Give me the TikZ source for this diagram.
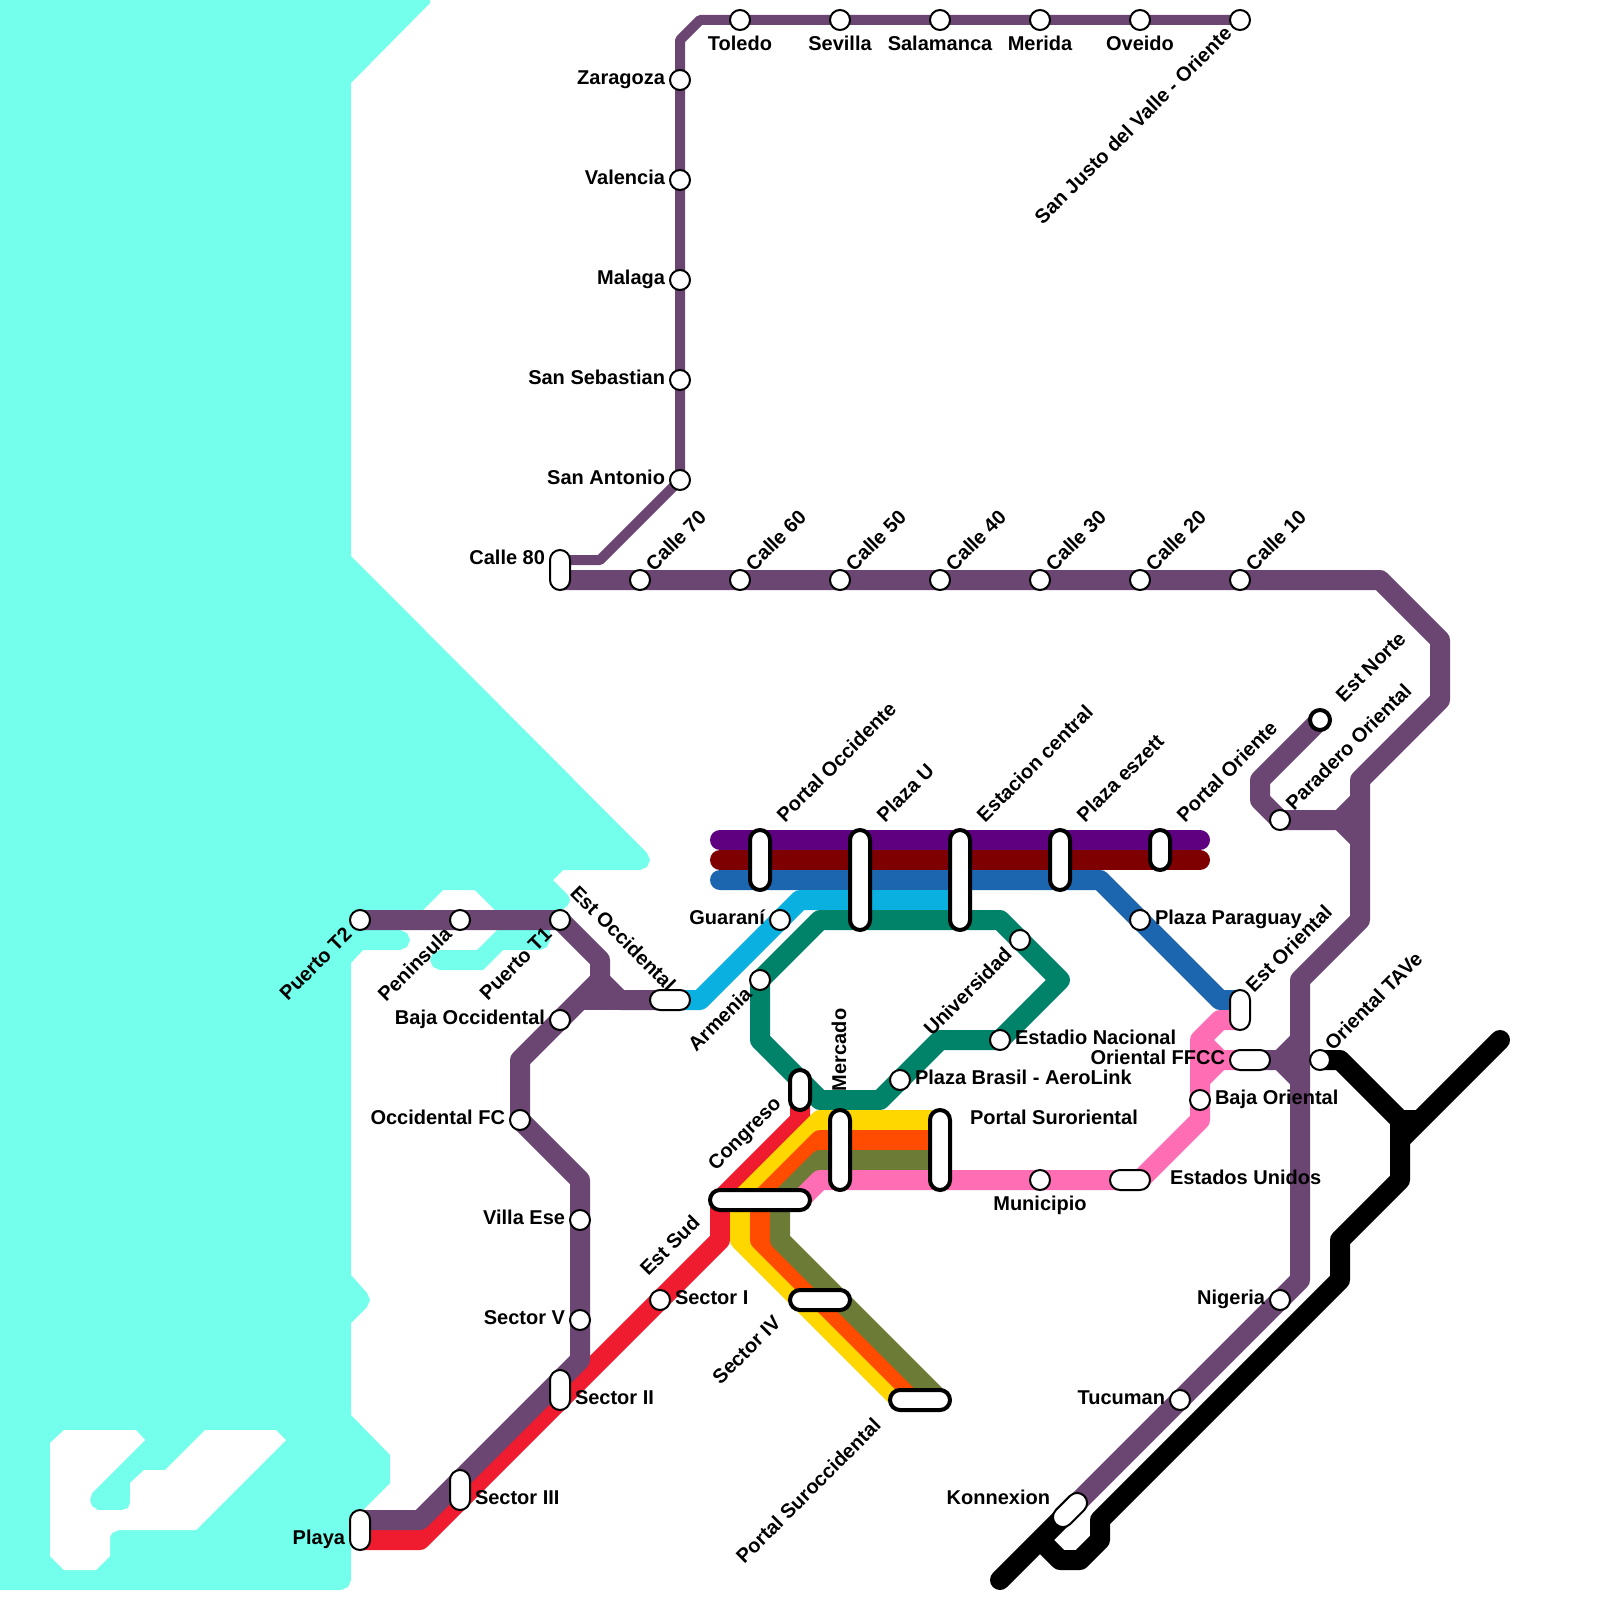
\documentclass[tikz,border=0pt]{standalone}
\usepackage{fontspec}
\setmainfont{Liberation Sans}
\pgfdeclarelayer{sea}
\pgfdeclarelayer{lines}
\pgfsetlayers{sea,lines,main}
\definecolor{seac}{HTML}{74FFEC}
\definecolor{plum}{HTML}{6C4672}
\definecolor{viol}{HTML}{5E0080}
\definecolor{maro}{HTML}{7F0000}
\definecolor{blu}{HTML}{1C66B0}
\definecolor{cya}{HTML}{0AB0E0}
\definecolor{tea}{HTML}{008368}
\definecolor{yel}{HTML}{FFD700}
\definecolor{ora}{HTML}{FF4C00}
\definecolor{oli}{HTML}{6C7B35}
\definecolor{hotp}{HTML}{FF6EB4}
\definecolor{redl}{HTML}{EE1C2E}
\tikzset{
  stn/.style={circle,draw=black,fill=white,line width=2pt,minimum size=20pt,inner sep=0pt},
  stnk/.style={circle,draw=black,fill=white,line width=4pt,minimum size=20pt,inner sep=0pt},
  pill/.style={rectangle,rounded corners=10pt,draw=black,fill=white,line width=2pt,inner sep=0pt},
  pillk/.style={pill,line width=4pt},
  lab/.style={font=\fontsize{20}{24}\selectfont\bfseries,inner sep=0pt,outer sep=0pt,text=black},
  ln/.style={line width=20pt,line join=round},
  thin ln/.style={line width=10pt,line join=round},
}
\newcommand{\st}[2]{\node[stn] (#1) at (#2) {};}
\newcommand{\pl}[5]{\node[#1,minimum width=#4pt,minimum height=#5pt] (#2) at (#3) {};}
\newcommand{\lb}[5]{\node[lab,anchor=#2,rotate=#3] (l#1) at (#4) {#5};}
\begin{document}
\begin{tikzpicture}[x=1pt,y=-1pt]
\useasboundingbox (0,0) rectangle (1600,1600);
% stations
\st{toledo}{740,20}\st{sevilla}{840,20}\st{salam}{940,20}\st{merida}{1040,20}\st{oveido}{1140,20}\st{justo}{1240,20}
\st{zara}{680,80}\st{valen}{680,180}\st{malaga}{680,280}\st{sanseb}{680,380}\st{sanant}{680,480}
\st{c70}{640,580}\st{c60}{740,580}\st{c50}{840,580}\st{c40}{940,580}\st{c30}{1040,580}\st{c20}{1140,580}\st{c10}{1240,580}
\node[stnk] (norte) at (1320,720) {};
\st{parad}{1280,820}\st{guarani}{780,920}\st{armenia}{760,980}\st{univ}{1020,940}\st{estadio}{1000,1040}\st{brasil}{900,1080}
\st{paraguay}{1140,920}\st{tave}{1320,1060}\st{bajaor}{1200,1100}\st{munic}{1040,1180}
\st{pt2}{360,920}\st{penin}{460,920}\st{pt1}{560,920}\st{bajaoc}{560,1020}\st{occfc}{520,1120}\st{villa}{580,1220}\st{secv}{580,1320}
\st{seci}{660,1300}\st{nigeria}{1280,1300}\st{tucuman}{1180,1400}
\pl{pill}{c80}{560,570}{20}{40}
\pl{pill}{estocc}{670,1000}{40}{20}
\pl{pillk}{portocc}{760,860}{20}{60}
\pl{pillk}{plazau}{860,880}{20}{100}
\pl{pillk}{estac}{960,880}{20}{100}
\pl{pillk}{eszett}{1060,860}{20}{60}
\pl{pillk}{portor}{1160,850}{20}{40}
\pl{pill}{estor}{1240,1010}{20}{40}
\pl{pill}{ffcc}{1250,1060}{40}{20}
\pl{pillk}{congreso}{800,1090}{20}{40}
\pl{pillk}{mercado}{840,1150}{20}{80}
\pl{pillk}{suror}{940,1150}{20}{80}
\pl{pill}{eeuu}{1130,1180}{40}{20}
\pl{pillk}{estsud}{760,1200}{100}{20}
\pl{pillk}{seciv}{820,1300}{60}{20}
\pl{pillk}{suroc}{920,1400}{60}{20}
\pl{pill}{secii}{560,1390}{20}{40}
\pl{pill}{seciii}{460,1490}{20}{40}
\pl{pill}{playa}{360,1530}{20}{40}
\node[pill,minimum width=40pt,minimum height=20pt,rotate=45] (konn) at (1070,1510) {};
\coordinate (estorA) at (1240,1000);
\coordinate (estorB) at (1240,1020);
% labels
\lb{toledo}{base}{0}{740,51}{Toledo}\lb{sevilla}{base}{0}{840,51}{Sevilla}\lb{salam}{base}{0}{940,51}{Salamanca}\lb{merida}{base}{0}{1040,51}{Merida}\lb{oveido}{base}{0}{1140,51}{Oveido}
\lb{justo}{base east}{45}{1233,35}{San Justo del Valle - Oriente}
\lb{zara}{base east}{0}{665,84.5}{Zaragoza}\lb{valen}{base east}{0}{665,184.5}{Valencia}\lb{malaga}{base east}{0}{665,284.5}{Malaga}\lb{sanseb}{base east}{0}{665,384.5}{San Sebastian}\lb{sanant}{base east}{0}{665,484.5}{San Antonio}
\lb{c80}{base east}{0}{545,564.5}{Calle 80}
\lb{c70}{base west}{45}{654,572}{Calle 70}\lb{c60}{base west}{45}{754,572}{Calle 60}\lb{c50}{base west}{45}{854,572}{Calle 50}\lb{c40}{base west}{45}{954,572}{Calle 40}\lb{c30}{base west}{45}{1054,572}{Calle 30}\lb{c20}{base west}{45}{1154,572}{Calle 20}\lb{c10}{base west}{45}{1254,572}{Calle 10}
\lb{norte}{base west}{45}{1344,703}{Est Norte}
\lb{parad}{base west}{45}{1294,811}{Paradero Oriental}
\lb{portocc}{base west}{45}{785,823}{Portal Occidente}\lb{plazau}{base west}{45}{885,823}{Plaza U}\lb{estac}{base west}{45}{985,823}{Estacion central}\lb{eszett}{base west}{45}{1085,823}{Plaza eszett}\lb{portor}{base west}{45}{1185,823}{Portal Oriente}
\lb{guarani}{base east}{0}{765,924.5}{Guaraní}
\lb{paraguay}{base west}{0}{1155,924.5}{Plaza Paraguay}
\lb{estor}{base west}{45}{1254,993}{Est Oriental}
\lb{tave}{base west}{45}{1333,1051}{Oriental TAVe}
\lb{estadio}{base west}{0}{1015,1044.5}{Estadio Nacional}
\lb{ffcc}{base east}{0}{1225,1064.5}{Oriental FFCC}
\lb{brasil}{base west}{0}{915,1084.5}{Plaza Brasil - AeroLink}
\lb{bajaor}{base west}{0}{1215,1104.5}{Baja Oriental}
\lb{suror}{base west}{0}{970,1124.5}{Portal Suroriental}
\lb{eeuu}{base west}{0}{1170,1184.5}{Estados Unidos}
\lb{munic}{base}{0}{1040,1210}{Municipio}
\lb{univ}{base east}{45}{1013,956}{Universidad}
\lb{armenia}{base east}{45}{753,996}{Armenia}
\lb{mercado}{base west}{90}{846,1091}{Mercado}
\lb{congreso}{base east}{45}{782,1105}{Congreso}
\lb{estsud}{base east}{45}{701,1224}{Est Sud}
\lb{seci}{base west}{0}{675,1304.5}{Sector I}
\lb{seciv}{base east}{45}{782,1324}{Sector IV}
\lb{suroc}{base east}{45}{882,1427}{Portal Suroccidental}
\lb{pt2}{base east}{45}{353,936}{Puerto T2}\lb{penin}{base east}{45}{453,936}{Peninsula}\lb{pt1}{base east}{45}{553,936}{Puerto T1}
\lb{estocc}{base west}{-45}{569,894}{Est Occidental}
\lb{bajaoc}{base east}{0}{545,1024.5}{Baja Occidental}
\lb{occfc}{base east}{0}{505,1124.5}{Occidental FC}
\lb{villa}{base east}{0}{565,1224.5}{Villa Ese}
\lb{secv}{base east}{0}{565,1324.5}{Sector V}
\lb{secii}{base west}{0}{575,1404.5}{Sector II}
\lb{seciii}{base west}{0}{475,1504.5}{Sector III}
\lb{playa}{base east}{0}{345,1544.5}{Playa}
\lb{nigeria}{base east}{0}{1265,1304.5}{Nigeria}
\lb{tucuman}{base east}{0}{1165,1404.5}{Tucuman}
\lb{konn}{base east}{0}{1050,1504.5}{Konnexion}
% sea
\begin{pgfonlayer}{sea}
\fill[seac] (0,0)--(430,0)--(430,3)--(351,83)--(351,556)--(647,853)--(650,860)--(647,867)--(640,870)--(563,870)--(553,880)--(568,895)--(570,900)--(568,905)--(562,910)--(550,930)--(550,940)--(547,947)--(540,950)--(503,950)--(483,970)--(440,970)--(433,967)--(430,960)--(433,953)--(440,950)--(477,950)--(497,930)--(495,910)--(475,890)--(443,890)--(423,910)--(400,930)--(407,933)--(410,940)--(407,947)--(400,950)--(363,950)--(351,963)--(351,1275)--(367,1293)--(370,1300)--(367,1307)--(351,1323)--(351,1415)--(390,1455)--(390,1483)--(363,1510)--(351,1525)--(351,1580)--(348,1587)--(341,1590)--(0,1590)--cycle;
\fill[white] (50,1443)--(64,1430)--(136,1430)--(145,1440)--(92,1493)--(90,1500)--(92,1506)--(98,1510)--(122,1510)--(128,1508)--(130,1503)--(130,1483)--(144,1470)--(165,1470)--(205,1430)--(276,1430)--(286,1440)--(196,1530)--(119,1530)--(112,1533)--(110,1537)--(110,1556)--(96,1570)--(64,1570)--(50,1556)--cycle;
\end{pgfonlayer}
% lines
\begin{pgfonlayer}{lines}
\draw[redl,ln] (congreso.center)--(800,1120)--(720,1200)--(720,1240)--(seci.center)--(420,1540)--(360,1540);
\draw[plum,thin ln] (justo.center)--(oveido.center)--(merida.center)--(salam.center)--(sevilla.center)--(toledo.center)--(700,20)--(680,40)--(zara.center)--(valen.center)--(malaga.center)--(sanseb.center)--(sanant.center)--(600,560)--(560,560);
\draw[plum,ln] (560,580)--(c70.center)--(c60.center)--(c50.center)--(c40.center)--(c30.center)--(c20.center)--(c10.center)--(1380,580)--(1440,640)--(1440,700)--(1360,780)--(1360,920)--(1300,980)--(1300,1280)--(nigeria.center)--(tucuman.center)--(konn.center);
\draw[plum,ln] (norte.center)--(1260,780)--(1260,800)--(parad.center)--(1340,820)--(1360,800);
\draw[plum,ln] (1340,820)--(1360,840);
\draw[plum,ln] (pt2.center)--(penin.center)--(pt1.center)--(600,960)--(600,980)--(620,1000)--(estocc.center);
\draw[plum,ln] (580,1000)--(estocc.center);
\draw[plum,ln] (600,980)--(bajaoc.center)--(520,1060)--(occfc.center)--(580,1180)--(villa.center)--(secv.center)--(580,1360)--(420,1520)--(360,1520);
\draw[plum,ln] (ffcc.center)--(1280,1060)--(1300,1040);
\draw[plum,ln] (1280,1060)--(1300,1080);
\draw[viol,ln,line cap=round] (720,840)--(1200,840);
\draw[maro,ln,line cap=round] (720,860)--(1200,860);
\draw[blu,ln,line cap=round] (720,880)--(1100,880)--(paraguay.center)--(1220,1000);
\draw[blu,ln] (1220,1000)--(estorA);
\draw[cya,ln] (estocc.center)--(700,1000)--(guarani.center)--(800,900)--(960,900);
\draw[tea,ln] (armenia.center)--(820,920)--(1000,920)--(univ.center)--(1060,980)--(estadio.center)--(940,1040)--(brasil.center)--(880,1100)--(820,1100)--(760,1040)--cycle;
\draw[yel,ln] (940,1120)--(820,1120)--(740,1200)--(740,1240)--(900,1400);
\draw[ora,ln] (940,1140)--(820,1140)--(760,1200)--(760,1240)--(920,1400);
\draw[oli,ln] (940,1160)--(820,1160)--(780,1200)--(780,1240)--(940,1400);
\draw[hotp,ln] (800,1200)--(820,1180)--(munic.center)--(eeuu.center)--(1140,1180)--(1200,1120)--(bajaor.center)--(1200,1040)--(1220,1020)--(estorB);
\draw[hotp,ln] (1200,1040)--(1220,1060)--(ffcc.center);
\draw[hotp,ln] (1220,1060)--(1200,1080);
\draw[black,ln] (tave.center)--(1340,1060)--(1400,1120)--(1420,1120);
\draw[black,ln,line cap=round] (1400,1140)--(1500,1040);
\draw[black,ln,line cap=round] (konn.center)--(1000,1580);
\draw[black,ln] (1400,1120)--(1400,1180)--(1340,1240)--(1340,1280)--(1100,1520)--(1100,1540)--(1080,1560)--(1060,1560)--(1040,1540);
\end{pgfonlayer}
\end{tikzpicture}
\end{document}
